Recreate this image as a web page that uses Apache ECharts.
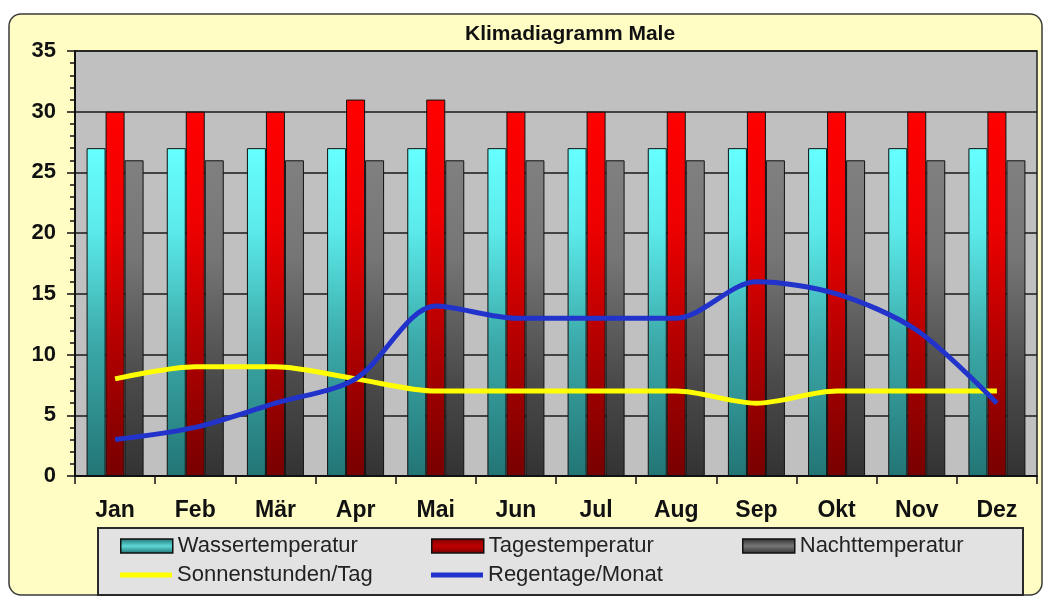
<!DOCTYPE html>
<html>
<head>
<meta charset="utf-8">
<script src="https://cdn.jsdelivr.net/npm/echarts@6/dist/echarts.min.js"></script>
<style>
html,body{margin:0;padding:0;background:#ffffff;}
#chart{width:1044px;height:599px;}
</style>
</head>
<body>
<div id="chart"></div>
<script>
var months = ['Jan','Feb','Mär','Apr','Mai','Jun','Jul','Aug','Sep','Okt','Nov','Dez'];
var wasser = [27,27,27,27,27,27,27,27,27,27,27,27];
var tages = [30,30,30,31,31,30,30,30,30,30,30,30];
var nacht = [26,26,26,26,26,26,26,26,26,26,26,26];
var sonne = [8,9,9,8,7,7,7,7,6,7,7,7];
var regen = [3,4,6,8,14,13,13,13,16,15,12,6];
var yTicks = [0,5,10,15,20,25,30,35];

function grad(stops){
  return new echarts.graphic.LinearGradient(0,0,0,1,stops.map(function(s){return {offset:s[0],color:s[1]};}));
}
var font = 'Arial, "Liberation Sans", sans-serif';
var legendText = {fontFamily:font, fontSize:22, color:'#222'};
function barLegend(name, left, color){
  return {left:left, top:535, orient:'horizontal', padding:0, itemWidth:52, itemHeight:14, z:5,
    data:[{name:name, icon:'rect', itemStyle:{color:color, borderColor:'#111', borderWidth:1.5}}],
    textStyle:legendText};
}
function lineLegend(name, left){
  return {left:left, top:564, orient:'horizontal', padding:0, itemWidth:52, itemHeight:5, z:5,
    data:[{name:name, icon:'rect'}], textStyle:legendText};
}
var chart = echarts.init(document.getElementById('chart'), null, {renderer:'canvas'});
var option = {
  backgroundColor: 'transparent',
  animation: false,
  graphic: [
    {type:'rect', z:-10, shape:{x:9,y:14,width:1033,height:581,r:12},
     style:{fill:'#FFFDC4', stroke:'#3a3a3a', lineWidth:1.5}},
    {type:'rect', z:1, shape:{x:98,y:528,width:925,height:67},
     style:{fill:'#E2E2E2', stroke:'#2a2a2a', lineWidth:2}}
  ],
  title: {
    text: 'Klimadiagramm Male', left: 465, top: 24, padding: 0,
    textStyle: {fontFamily: font, fontWeight: 'bold', fontSize: 21, color: '#111'}
  },
  grid: {left:75, top:51, right:7, bottom:123, show:true, backgroundColor:'#C0C0C0', borderColor:'#222', borderWidth:1.5, containLabel:false},
  legend: [
    barLegend('Wassertemperatur', 120, grad([[0,'#1E6E6E'],[0.5,'#5ED8D8'],[1,'#1E6E6E']])),
    barLegend('Tagestemperatur', 431, grad([[0,'#780000'],[0.5,'#C00000'],[1,'#780000']])),
    barLegend('Nachttemperatur', 742, grad([[0,'#2E2E2E'],[0.5,'#777777'],[1,'#2E2E2E']])),
    lineLegend('Sonnenstunden/Tag', 120),
    lineLegend('Regentage/Monat', 431)
  ],
  xAxis: {
    type:'category', data: months, boundaryGap:true,
    axisLine:{show:true, lineStyle:{color:'#111', width:2}},
    axisTick:{show:true, interval:0, length:8, lineStyle:{color:'#111', width:1.5}},
    axisLabel:{margin:23, interval:0, fontFamily:font, fontWeight:'bold', fontSize:23, color:'#111'},
    splitLine:{show:false}
  },
  yAxis: {
    type:'value', min:0, max:35, interval:5,
    axisLine:{show:true, lineStyle:{color:'#111', width:2}},
    axisTick:{show:true, length:8, lineStyle:{color:'#111', width:1.5}},
    minorTick:{show:true, splitNumber:5, length:5, lineStyle:{color:'#111', width:1.5}},
    axisLabel:{margin:19, fontFamily:font, fontWeight:'bold', fontSize:22, color:'#111',
      formatter:function(v){ return yTicks.indexOf(v) >= 0 ? String(v) : ''; }},
    splitLine:{show:true, lineStyle:{color:'#1a1a1a', width:1.5}}
  },
  series: [
    {name:'Wassertemperatur', type:'bar', data:wasser, barWidth:19, barGap:'0%',
     itemStyle:{borderColor:'#111', borderWidth:1,
       color:grad([[0,'#66FFFF'],[0.25,'#5CEAEA'],[0.6,'#3BA8A8'],[1,'#237575']])}},
    {name:'Tagestemperatur', type:'bar', data:tages, barWidth:19, barGap:'0%',
     itemStyle:{borderColor:'#111', borderWidth:1,
       color:grad([[0,'#FF0000'],[0.3,'#F00000'],[0.7,'#A80000'],[1,'#780000']])}},
    {name:'Nachttemperatur', type:'bar', data:nacht, barWidth:19, barGap:'0%',
     itemStyle:{borderColor:'#111', borderWidth:1,
       color:grad([[0,'#808080'],[0.3,'#767676'],[0.7,'#4A4A4A'],[1,'#333333']])}},
    {name:'Sonnenstunden/Tag', type:'line', data:sonne, smooth:0.3, symbol:'none', z:5,
     lineStyle:{color:'#FFFF00', width:5}, itemStyle:{color:'#FFFF00'}},
    {name:'Regentage/Monat', type:'line', data:regen, smooth:0.3, symbol:'none', z:6,
     lineStyle:{color:'#2233CC', width:5}, itemStyle:{color:'#2233CC'}}
  ]
};
chart.setOption(option);
</script>
</body>
</html>
